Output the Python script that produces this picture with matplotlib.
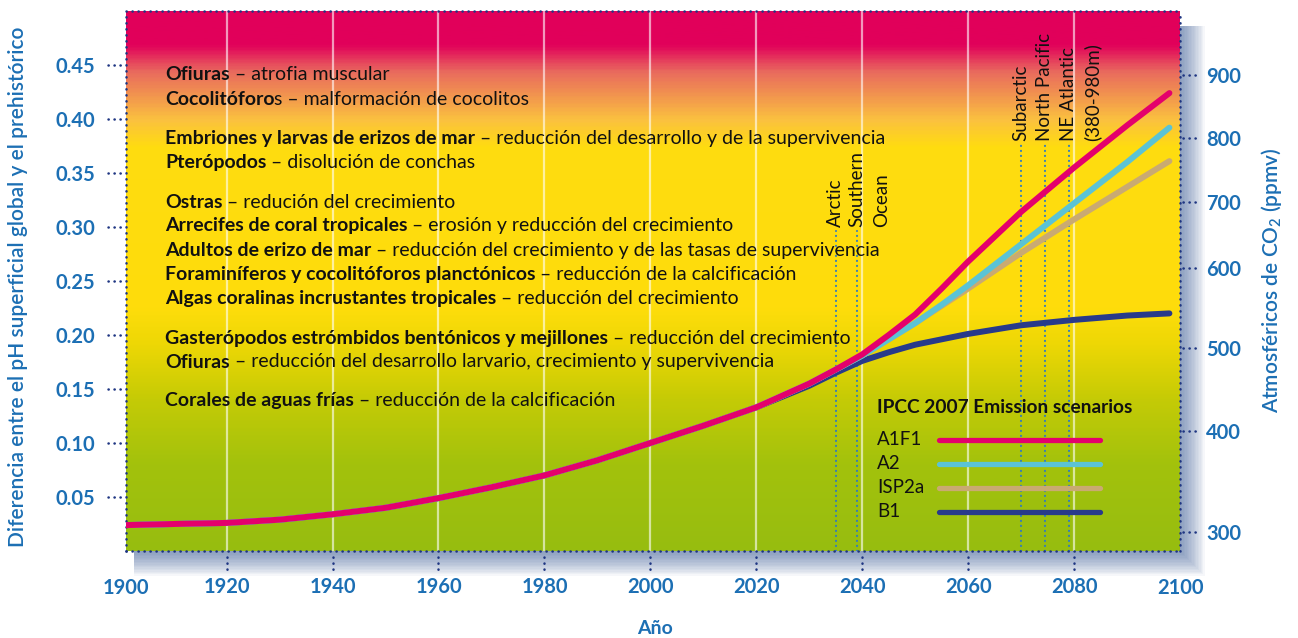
import numpy as np
import matplotlib.pyplot as plt
import matplotlib.transforms as mtransforms
from matplotlib.colors import LinearSegmentedColormap
from matplotlib.patches import Rectangle

plt.rcParams['font.family'] = ['Lato', 'DejaVu Sans']
plt.rcParams['mathtext.fontset'] = 'custom'
plt.rcParams['mathtext.rm'] = 'Lato'

# pH difference curves
years = [1901, 1910, 1920, 1930, 1940, 1950, 1960, 1970, 1980, 1990, 2000, 2010,
         2020, 2030, 2035, 2040, 2045, 2050, 2055, 2060, 2070, 2080, 2090, 2098]
common = [0.024, 0.025, 0.026, 0.029, 0.034, 0.040, 0.049, 0.059, 0.070, 0.084,
          0.100, 0.116, 0.133, 0.155]
a1f1 = common + [0.168, 0.182, 0.200, 0.219, 0.243, 0.268, 0.314, 0.355, 0.394, 0.424]
a2 = common + [0.168, 0.181, 0.196, 0.211, 0.228, 0.246, 0.284, 0.322, 0.360, 0.392]
isp2a = common + [0.168, 0.181, 0.196, 0.211, 0.227, 0.243, 0.276, 0.307, 0.337, 0.361]
b1 = common[:-1] + [0.153, 0.165, 0.176, 0.184, 0.191, 0.196, 0.201, 0.209, 0.214, 0.218, 0.220]

scenarios = ['A1F1', 'A2', 'ISP2a', 'B1']
scen_colors = ['#E4006C', '#5BC3D5', '#C9AA72', '#283A8A']

ph_ticks = [0.05, 0.10, 0.15, 0.20, 0.25, 0.30, 0.35, 0.40, 0.45]
co2_labels = [300, 400, 500, 600, 700, 800, 900]
co2_at = [0.018, 0.111, 0.188, 0.262, 0.323, 0.382, 0.441]
year_ticks = [1920, 1940, 1960, 1980, 2000, 2020, 2040, 2060, 2080]

# organisms and the pH drop where effects show up
bold_parts = ['Ofiuras', 'Cocolitóforo', 'Embriones y larvas de erizos de mar', 'Pterópodos',
              'Ostras', 'Arrecifes de coral tropicales', 'Adultos de erizo de mar',
              'Foraminíferos y cocolitóforos planctónicos', 'Algas coralinas incrustantes tropicales',
              'Gasterópodos estrómbidos bentónicos y mejillones', 'Ofiuras',
              'Corales de aguas frías']
normal_parts = [' – atrofia muscular', 's – malformación de cocolitos',
                ' – reducción del desarrollo y de la supervivencia', ' – disolución de conchas',
                ' – redución del crecimiento', ' – erosión y reducción del crecimiento',
                ' – reducción del crecimiento y de las tasas de supervivencia',
                ' – reducción de la calcificación', ' – reducción del crecimiento',
                ' – reducción del crecimiento',
                ' – reducción del desarrollo larvario, crecimiento y supervivencia',
                ' – reducción de la calcificación']
note_y = [0.441, 0.418, 0.382, 0.360, 0.323, 0.301, 0.278, 0.256, 0.234, 0.197, 0.175, 0.139]

region_names = ['Arctic', 'Southern', 'Subarctic', 'North Pacific', 'NE Atlantic']
region_years = [2035, 2039, 2070, 2074.5, 2079]
region_tops = [0.296, 0.296, 0.376, 0.376, 0.376]
extra_names = ['Ocean', '(380-980m)']
extra_years = [2043.6, 2083.5]
extra_tops = [0.296, 0.376]

blue = '#1C6FB4'
navy = '#1E3582'
dots = (0, (0.1, 2.3))

fig = plt.figure(figsize=(12.98, 6.38), dpi=100)
W, H = 1298, 638
L, R, T, B = 126, 1180, 11, 551
ax = fig.add_axes([L / W, 1 - B / H, (R - L) / W, (B - T) / H])

# soft shadow right and below the plot
for i in range(18):
    fig.patches.append(Rectangle(((L + 8) / W, 1 - (B + 1 + i * 1.4) / H),
                                 (R - L - 7 + i * 1.4) / W, (B - T - 14 + i * 1.4) / H,
                                 transform=fig.transFigure, color='#3A5A98', alpha=0.045,
                                 lw=0, zorder=-1))

x0, x1 = 1901, 2100
ax.set_xlim(x0, x1)
ax.set_ylim(0, 0.5)

stops = [(0.0, '#97BD10'), (0.16, '#A3C20C'), (0.28, '#C5CB06'), (0.38, '#EDD705'),
         (0.45, '#FEDD0B'), (0.75, '#FFDC10'), (0.80, '#FBC13F'), (0.89, '#E96A5E'),
         (0.94, '#E1005A'), (1.0, '#E1005A')]
cmap = LinearSegmentedColormap.from_list('bg', stops)
grad = np.linspace(0, 1, 400).reshape(-1, 1)
ax.imshow(grad, extent=[x0, x1, 0, 0.5], origin='lower', aspect='auto', cmap=cmap, zorder=0)

ax.set_xticks(year_ticks, [str(y) for y in year_ticks])
ax.grid(axis='x', color='white', lw=1.6, alpha=0.6)
ax.set_yticks(ph_ticks, [f'{v:.2f}' for v in ph_ticks])
ax.tick_params(axis='x', length=0, pad=19, labelsize=14.5, labelcolor=blue)
ax.tick_params(axis='y', length=0, pad=22, labelsize=14.5, labelcolor=blue)
for lab in ax.get_xticklabels() + ax.get_yticklabels():
    lab.set_fontweight('bold')
for x in (0.0, 1.0):
    ax.text(x, -0.05, str(1900 if x == 0 else 2100), transform=ax.transAxes, ha='center',
            va='top', fontsize=14.5, fontweight='bold', color=blue)

for sp in ax.spines.values():
    sp.set_linestyle(dots)
    sp.set_color(navy)
    sp.set_linewidth(1.8)
    sp.set_capstyle('round')

xt = mtransforms.blended_transform_factory(ax.transData, ax.transAxes)
yt = mtransforms.blended_transform_factory(ax.transAxes, ax.transData)
for x in year_ticks:
    ax.plot([x, x], [-0.012, -0.038], transform=xt, clip_on=False, color=navy, lw=1.8,
            ls=dots, dash_capstyle='round')
for y in ph_ticks:
    ax.plot([-0.017, -0.003], [y, y], transform=yt, clip_on=False, color=navy, lw=1.8,
            ls=dots, dash_capstyle='round')
for y in co2_at:
    ax.plot([1.003, 1.018], [y, y], transform=yt, clip_on=False, color=navy, lw=1.8,
            ls=dots, dash_capstyle='round')

ax2 = ax.twinx()
ax2.set_ylim(0, 0.5)
ax2.set_yticks(co2_at, [str(c) for c in co2_labels])
ax2.tick_params(axis='y', length=0, pad=19, labelsize=14.5, labelcolor=blue)
for lab in ax2.get_yticklabels():
    lab.set_fontweight('bold')
for sp in ax2.spines.values():
    sp.set_visible(False)

# regional thresholds
for name, yr, top in zip(region_names, region_years, region_tops):
    ax.plot([yr, yr], [0, top], color='#2F7BC0', lw=1.5, ls=dots, dash_capstyle='round', zorder=1)
    ax.text(yr, top + 0.004, name, rotation=90, ha='center', va='bottom', fontsize=13.5,
            color='#111111')
for name, yr, top in zip(extra_names, extra_years, extra_tops):
    ax.text(yr, top + 0.004, name, rotation=90, ha='center', va='bottom', fontsize=13.5,
            color='#111111')

# scenario curves
for vals, c in zip([b1, isp2a, a2, a1f1], scen_colors[::-1]):
    ax.plot(years, vals, color=c, lw=4.3, solid_capstyle='round', solid_joinstyle='round',
            zorder=3)

# organism notes
for b, n, y in zip(bold_parts, normal_parts, note_y):
    t = ax.text(0.037, y, b, transform=yt, fontsize=14, fontweight='bold', va='center',
                color='#111111', zorder=4)
    ax.annotate(n, xy=(1, 0), xycoords=t, va='bottom', ha='left', fontsize=14,
                color='#111111', zorder=4)

# legend
ax.text(0.7125, 0.265, 'IPCC 2007 Emission scenarios', transform=ax.transAxes,
        fontsize=13.8, fontweight='bold', va='center', color='#111111')
for i, (name, c) in enumerate(zip(scenarios, scen_colors)):
    ly = 0.2056 - i * 0.0444
    ax.text(0.7125, ly, name, transform=ax.transAxes, fontsize=13.5, va='center',
            color='#111111')
    ax.plot([0.771, 0.924], [ly, ly], transform=ax.transAxes, color=c, lw=3.8,
            solid_capstyle='round', zorder=4)

fig.text(18 / W, 1 - 287 / H, 'Diferencia entre el pH superficial global y el prehistórico',
         rotation=90, ha='center', va='center', fontsize=15, fontweight='semibold', color=blue)
fig.text(1272 / W, 1 - 280 / H, r'Atmosféricos de CO$_\mathregular{2}$ (ppmv)',
         rotation=90, ha='center', va='center', fontsize=15, fontweight='semibold', color=blue)
fig.text(655 / W, 1 - 628 / H, 'Año', ha='center', va='center', fontsize=14,
         fontweight='bold', color=blue)

fig.savefig('out.png', dpi=100)
